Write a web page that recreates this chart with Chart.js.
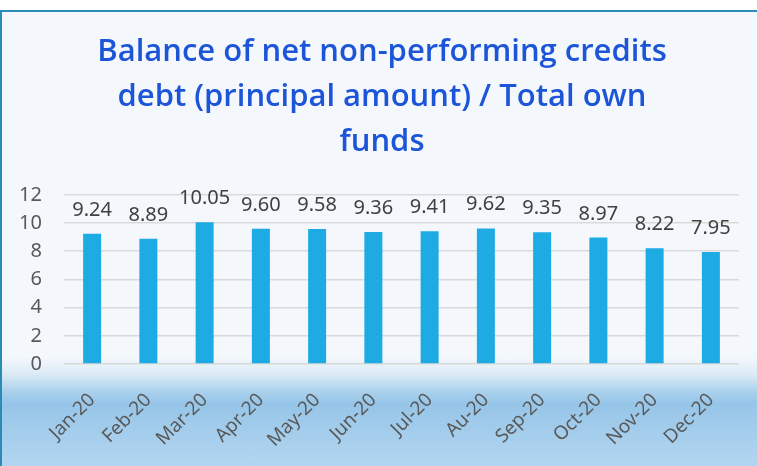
<!DOCTYPE html>
<html>
<head>
<meta charset="utf-8">
<script src="https://cdn.jsdelivr.net/npm/chart.js@4"></script>
<style>
    html, body { margin: 0; padding: 0; background: #ffffff; }
    #frame {
        position: absolute;
        top: 10px;
        left: 0;
        width: 760px;
        height: 456px;
        border-top: 2px solid #2a8bb5;
        border-left: 2px solid #2a8bb5;
        box-sizing: border-box;
        background: linear-gradient(to bottom,
            #f4f8fc 0px, #f4f8fc 345px, #dcebf6 362px,
            #a9d0ec 380px, #96c5e8 392px, #a4cdec 420px, #b3d6f0 456px);
    }
    #chartBox { position: absolute; top: 10px; left: 0; width: 757px; height: 456px; }
</style>
</head>
<body>
<div id="frame"></div>
<div id="chartBox"><canvas id="myChart"></canvas></div>
<script>
const months = ["Jan-20", "Feb-20", "Mar-20", "Apr-20", "May-20", "Jun-20",
                "Jul-20", "Au-20", "Sep-20", "Oct-20", "Nov-20", "Dec-20"];
const ratioValues = [9.24, 8.89, 10.05, 9.60, 9.58, 9.36, 9.41, 9.62, 9.35, 8.97, 8.22, 7.95];
const titleLines = ["Balance of net non-performing credits",
                    "debt (principal amount) / Total own",
                    "funds"];

// draws the value above each bar (no datalabels plugin offline)
const valueLabels = {
    id: "valueLabels",
    afterDatasetsDraw(chart) {
        const ctx = chart.ctx;
        const meta = chart.getDatasetMeta(0);
        ctx.save();
        ctx.font = "20px 'Noto Sans'";
        ctx.fillStyle = "#404040";
        ctx.textAlign = "center";
        ctx.textBaseline = "alphabetic";
        meta.data.forEach((bar, i) => {
            ctx.fillText(ratioValues[i].toFixed(2), bar.x, bar.y - 18);
        });
        ctx.restore();
    }
};

const ctx = document.getElementById("myChart").getContext("2d");
new Chart(ctx, {
    type: "bar",
    data: {
        labels: months,
        datasets: [{
            data: ratioValues,
            backgroundColor: "#1eabe3",
            barPercentage: 0.32,
            categoryPercentage: 1
        }]
    },
    options: {
        responsive: true,
        maintainAspectRatio: false,
        animation: false,
        layout: { padding: { left: 7, right: 0, top: 0, bottom: 0 } },
        plugins: {
            legend: { display: false },
            tooltip: { enabled: false },
            title: {
                display: true,
                text: titleLines,
                color: "#1d55d8",
                font: { family: "'Open Sans'", size: 31, weight: 600, lineHeight: 1.45 },
                padding: { top: 20, bottom: 30 }
            }
        },
        scales: {
            x: {
                grid: { display: false },
                border: { display: false },
                ticks: {
                    color: "#595959",
                    font: { family: "'Noto Sans'", size: 19 },
                    minRotation: 45,
                    maxRotation: 45,
                    padding: 17
                },
                afterFit: s => { s.height = 102; }
            },
            y: {
                min: 0,
                max: 12,
                ticks: {
                    stepSize: 2,
                    color: "#595959",
                    font: { family: "'Noto Sans'", size: 20 },
                    padding: 22
                },
                grid: { color: "#d9d9d9", lineWidth: 1.5, drawTicks: false },
                border: { display: false },
                afterFit: s => { s.width = 57; }
            },
            // empty right-hand axis, only keeps the right margin
            yRight: {
                position: "right",
                min: 0,
                max: 12,
                ticks: { display: false },
                grid: { display: false },
                border: { display: false },
                afterFit: s => { s.width = 18; }
            }
        }
    },
    plugins: [valueLabels]
});
</script>
</body>
</html>
